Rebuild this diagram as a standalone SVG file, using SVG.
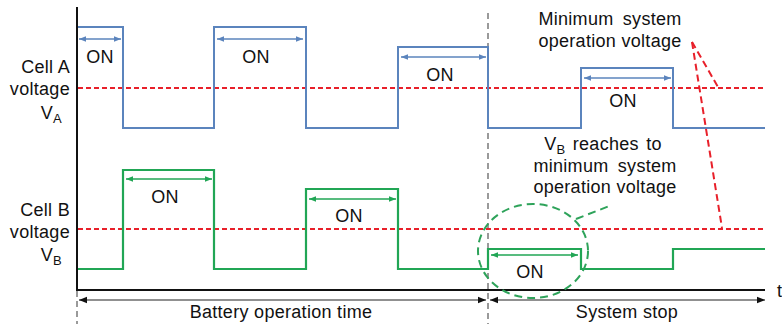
<svg xmlns="http://www.w3.org/2000/svg" width="782" height="324" viewBox="0 0 782 324">
<style>
text{font-family:"Liberation Sans",Arial,sans-serif;font-size:18px;fill:#111;letter-spacing:0.3px}
.l{text-anchor:end}
.c{text-anchor:middle}
.sub{font-size:13px}
.ax{stroke:#111;stroke-width:2;fill:none}
.blue{stroke:#5b84bd;stroke-width:2;fill:none}
.green{stroke:#21a655;stroke-width:2.2;fill:none}
.red{stroke:#e8202a;stroke-width:1.8;fill:none;stroke-dasharray:5 3}
.redc{stroke:#e8202a;stroke-width:2;fill:none;stroke-dasharray:7 4}
.gray{stroke:#7a7a7a;stroke-width:1.5;fill:none;stroke-dasharray:6 4}
.gc{stroke:#2ea35a;stroke-width:2;fill:none;stroke-dasharray:8 5}
.ab{stroke:#5b84bd;stroke-width:1.5;marker-start:url(#hbs);marker-end:url(#hbe)}
.ag{stroke:#21a655;stroke-width:1.5;marker-start:url(#hgs);marker-end:url(#hge)}
.ak{stroke:#222;stroke-width:1.2;marker-start:url(#hks);marker-end:url(#hke)}
</style>
<defs>
<marker id="hbe" viewBox="0 0 10 10" refX="10" refY="5" markerWidth="7" markerHeight="7" markerUnits="userSpaceOnUse" orient="auto"><path d="M0,1L10,5L0,9z" fill="#5b84bd"/></marker>
<marker id="hbs" viewBox="0 0 10 10" refX="0" refY="5" markerWidth="7" markerHeight="7" markerUnits="userSpaceOnUse" orient="auto"><path d="M10,1L0,5L10,9z" fill="#5b84bd"/></marker>
<marker id="hge" viewBox="0 0 10 10" refX="10" refY="5" markerWidth="7" markerHeight="7" markerUnits="userSpaceOnUse" orient="auto"><path d="M0,1L10,5L0,9z" fill="#21a655"/></marker>
<marker id="hgs" viewBox="0 0 10 10" refX="0" refY="5" markerWidth="7" markerHeight="7" markerUnits="userSpaceOnUse" orient="auto"><path d="M10,1L0,5L10,9z" fill="#21a655"/></marker>
<marker id="hke" viewBox="0 0 10 10" refX="10" refY="5" markerWidth="8" markerHeight="8" markerUnits="userSpaceOnUse" orient="auto"><path d="M0,1L10,5L0,9z" fill="#111"/></marker>
<marker id="hks" viewBox="0 0 10 10" refX="0" refY="5" markerWidth="8" markerHeight="8" markerUnits="userSpaceOnUse" orient="auto"><path d="M10,1L0,5L10,9z" fill="#111"/></marker>
</defs>
<rect width="782" height="324" fill="#fff"/>

<g id="axes">
<line class="ax" x1="77" y1="7" x2="77" y2="291"/>
<line class="ax" x1="76" y1="290" x2="765" y2="290"/>
<text x="777" y="297">t</text>
<line class="gray" x1="77" y1="291" x2="77" y2="324"/>
<line class="gray" x1="488" y1="13" x2="488" y2="324"/>
</g>

<g id="thresholds">
<line class="red" x1="78" y1="88" x2="765" y2="88"/>
<line class="red" x1="78" y1="229" x2="765" y2="229"/>
</g>

<g id="cellA">
<polyline class="blue" points="78,27 123,27 123,128 214,128 214,27 306,27 306,128 398,128 398,47 488,47 488,128 581,128 581,68 673,68 673,128 765,128"/>
<text class="l" x="70" y="73">Cell A</text>
<text class="l" x="70" y="95">voltage</text>
<text class="l" x="62" y="119">V<tspan class="sub" dy="4">A</tspan></text>
</g>

<g id="cellB">
<polyline class="green" points="78,269 123,269 123,170 214,170 214,269 306,269 306,189 398,189 398,269 488,269 488,249 581,249 581,269 673,269 673,249 765,249"/>
<text class="l" x="70" y="216">Cell B</text>
<text class="l" x="70" y="238">voltage</text>
<text class="l" x="62" y="261">V<tspan class="sub" dy="4">B</tspan></text>
</g>

<g id="connectors">
<line class="ab" x1="79" y1="39" x2="121" y2="39"/>
<line class="ab" x1="217" y1="39" x2="303" y2="39"/>
<line class="ab" x1="401" y1="57" x2="486" y2="57"/>
<line class="ab" x1="584" y1="78" x2="671" y2="78"/>
<line class="ag" x1="126" y1="179" x2="212" y2="179"/>
<line class="ag" x1="309" y1="199" x2="396" y2="199"/>
<line class="ag" x1="491" y1="255" x2="578" y2="255"/>
<line class="ak" x1="79" y1="300" x2="486" y2="300"/>
<line class="ak" x1="490" y1="300" x2="765" y2="300"/>
<line class="redc" x1="692" y1="42" x2="722" y2="228"/>
<line class="redc" x1="692" y1="42" x2="718" y2="87"/>
<ellipse class="gc" cx="533" cy="251" rx="55" ry="47"/>
<line class="gc" x1="576" y1="219" x2="612" y2="205"/>
</g>

<g id="labels">
<text class="c" x="100" y="63">ON</text>
<text class="c" x="256" y="63">ON</text>
<text class="c" x="440" y="81">ON</text>
<text class="c" x="623" y="107">ON</text>
<text class="c" x="165" y="203">ON</text>
<text class="c" x="349" y="222">ON</text>
<text class="c" x="530" y="278">ON</text>
<text class="c" x="610" y="25" style="word-spacing:4px">Minimum system</text>
<text class="c" x="610" y="47">operation voltage</text>
<text class="c" x="603" y="150">V<tspan class="sub" dy="4">B</tspan><tspan dy="-4" style="word-spacing:2px"> reaches to</tspan></text>
<text class="c" x="605" y="172" style="word-spacing:4px">minimum system</text>
<text class="c" x="605" y="193">operation voltage</text>
<text class="c" x="281" y="318">Battery operation time</text>
<text class="c" x="627" y="318">System stop</text>
</g>
</svg>
